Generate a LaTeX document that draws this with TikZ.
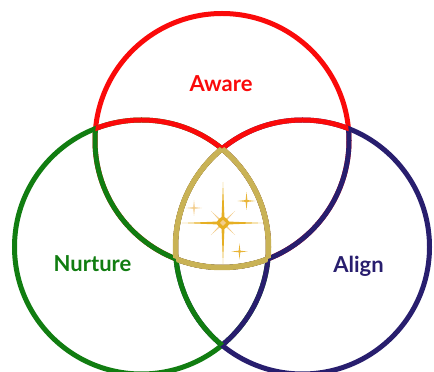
\documentclass[tikz,border=0pt]{standalone}
\usepackage{fontspec}
\setmainfont{Lato}
\usepackage{xcolor}
\usepackage{tikz}

\definecolor{awarered}{RGB}{250,10,10}
\definecolor{nurturegreen}{RGB}{17,125,17}
\definecolor{alignblue}{RGB}{40,30,110}
\definecolor{goldring}{RGB}{201,178,85}
\definecolor{stargold}{RGB}{230,175,35}
\definecolor{starlight}{RGB}{243,205,140}

\newcommand{\rr}{127pt}
% arc of circle #1 lying inside circle #2, drawn in colour #3
\newcommand{\arcpart}[3]{\begin{scope}\clip (#2) circle[radius=\rr];\draw[ring,#3] (#1) circle[radius=\rr];\end{scope}}
% arc of circle #1 lying inside both #2 and #3
\newcommand{\arcgold}[3]{\begin{scope}\clip (#2) circle[radius=\rr];\clip (#3) circle[radius=\rr];\draw[ring,goldring,line width=5.5pt] (#1) circle[radius=\rr];\end{scope}}
% four-point sparkle: centre, ray length, waist, colour
\newcommand{\sparkle}[4]{\fill[#4,shift={(#1)}] (0,#2) -- (#3,#3) -- (#2,0) -- (#3,-#3) -- (0,-#2) -- (-#3,-#3) -- (-#2,0) -- (-#3,#3) -- cycle;}

\begin{document}
\begin{tikzpicture}[
    x=1pt, y=1pt,
    ring/.style={line width=5pt},
    word/.style={font=\fontsize{22}{26}\selectfont\bfseries, anchor=base}
]
\useasboundingbox (0,0) rectangle (434,372);

\coordinate (aw) at (222,231.5);
\coordinate (nu) at (141.5,125);
\coordinate (al) at (302.5,125);

\draw[ring, awarered] (aw) circle[radius=\rr];
\draw[ring, nurturegreen] (nu) circle[radius=\rr];
\draw[ring, alignblue] (al) circle[radius=\rr];

\arcpart{aw}{nu}{nurturegreen}
\arcpart{aw}{al}{alignblue}
\arcpart{nu}{aw}{awarered}
\arcpart{nu}{al}{alignblue}
\arcpart{al}{aw}{awarered}
\arcpart{al}{nu}{nurturegreen}

% centre
\arcgold{aw}{nu}{al}
\arcgold{nu}{aw}{al}
\arcgold{al}{aw}{nu}

\coordinate (star) at (223,149);
\coordinate (sp1) at (194,164);
\coordinate (sp2) at (246.5,171);
\coordinate (sp3) at (239.5,120.5);
\begin{scope}[rotate around={45:(star)}]
  \sparkle{star}{17}{1}{starlight}
\end{scope}
\sparkle{star}{41}{1.6}{stargold}
\sparkle{star}{7}{4}{stargold}
\sparkle{star}{3}{1.5}{starlight}
\sparkle{sp1}{8}{0.8}{starlight}
\sparkle{sp2}{9}{0.9}{stargold!80!starlight}
\sparkle{sp3}{8}{0.8}{stargold!80!starlight}

\node[word, text=awarered] (aware) at (221,280) {Aware};
\node[word, text=nurturegreen] (nurture) at (92.5,100) {Nurture};
\node[word, text=alignblue] (align) at (358.5,99) {Align};

\end{tikzpicture}
\end{document}
